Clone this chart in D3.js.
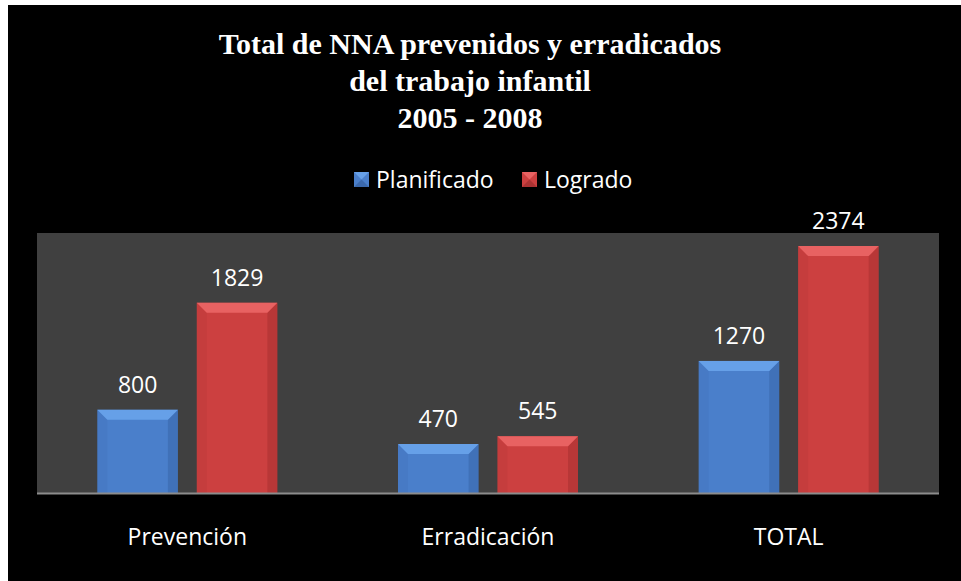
<!DOCTYPE html>
<html>
<head>
<meta charset="utf-8">
<script src="https://cdn.jsdelivr.net/npm/d3@7"></script>
<style>
  body { margin: 0; background: #fff; }
  svg { display: block; }
</style>
</head>
<body>
<svg id="chart" width="961" height="581"></svg>
<script>
var categories = ["Prevención", "Erradicación", "TOTAL"];
var seriesNames = ["Planificado", "Logrado"];
var planificado = [800, 470, 1270];
var logrado = [1829, 545, 2374];
var titleLines = ["Total de NNA prevenidos y erradicados", "del trabajo infantil", "2005 - 2008"];

var colors = {
    Planificado: { main: "#4a7fcb", top: "#66a0e8", side: "#3a69ad", dark: "#2c548f" },
    Logrado: { main: "#cc4040", top: "#e86262", side: "#aa3333", dark: "#8a2626" }
};

var svg = d3.select("#chart");
var textFont = "'Open Sans', sans-serif";
var textSize = 23;

// frame
svg.append("rect").attr("x", 8).attr("y", 5).attr("width", 953).attr("height", 576).attr("fill", "#000");

// title
svg.append("text")
    .attr("x", 470)
    .attr("text-anchor", "middle")
    .attr("font-family", "'Liberation Serif', 'Times New Roman', serif")
    .attr("font-weight", "bold")
    .attr("font-size", 30)
    .attr("fill", "#fff")
    .selectAll("tspan")
    .data(titleLines)
    .enter()
    .append("tspan")
    .attr("x", 470)
    .attr("y", function (d, i) { return 54 + i * 37; })
    .text(function (d) { return d; });

var plot = { left: 37, right: 939, top: 233, bottom: 493 };

var x0 = d3.scaleBand().domain(categories).range([plot.left, plot.right]).paddingInner(0);
var x1 = d3.scaleBand().domain(seriesNames).range([-90, 90]).paddingInner(0.19);
var y = d3.scaleLinear().domain([0, 2500]).range([plot.bottom, plot.top]);

svg.append("rect")
    .attr("x", plot.left).attr("y", plot.top)
    .attr("width", plot.right - plot.left).attr("height", plot.bottom - plot.top)
    .attr("fill", "#404040");

var rows = categories.map(function (c, i) {
    return { cat: c, values: [
        { key: "Planificado", value: planificado[i] },
        { key: "Logrado", value: logrado[i] }
    ] };
});

var groups = svg.selectAll("g.cat")
    .data(rows)
    .enter()
    .append("g")
    .attr("class", "cat")
    .attr("transform", function (d) { return "translate(" + (x0(d.cat) + x0.bandwidth() / 2) + ",0)"; });

var bars = groups.selectAll("g.bar")
    .data(function (d) { return d.values; })
    .enter()
    .append("g")
    .attr("class", "bar");

var bev = 10;

// body
bars.append("rect")
    .attr("x", function (d) { return x1(d.key); })
    .attr("y", function (d) { return y(d.value); })
    .attr("width", x1.bandwidth())
    .attr("height", function (d) { return plot.bottom - y(d.value); })
    .attr("fill", function (d) { return colors[d.key].main; });

// left bevel
bars.append("path")
    .attr("d", function (d) {
        var l = x1(d.key), t = y(d.value), b = plot.bottom;
        return "M" + l + "," + t + "L" + (l + bev) + "," + (t + bev) + "L" + (l + bev) + "," + b + "L" + l + "," + b + "Z";
    })
    .attr("fill", function (d) { return colors[d.key].side; })
    .attr("opacity", 0.2);

// right bevel
bars.append("path")
    .attr("d", function (d) {
        var r = x1(d.key) + x1.bandwidth(), t = y(d.value), b = plot.bottom;
        return "M" + r + "," + t + "L" + (r - bev) + "," + (t + bev) + "L" + (r - bev) + "," + b + "L" + r + "," + b + "Z";
    })
    .attr("fill", function (d) { return colors[d.key].dark; })
    .attr("opacity", 0.3);

// top bevel
bars.append("path")
    .attr("d", function (d) {
        var l = x1(d.key), r = l + x1.bandwidth(), t = y(d.value);
        return "M" + l + "," + t + "L" + r + "," + t + "L" + (r - bev) + "," + (t + bev) + "L" + (l + bev) + "," + (t + bev) + "Z";
    })
    .attr("fill", function (d) { return colors[d.key].top; });

// labels
bars.append("text")
    .attr("x", function (d) { return x1(d.key) + x1.bandwidth() / 2; })
    .attr("y", function (d) { return y(d.value) - 17; })
    .attr("text-anchor", "middle")
    .attr("font-family", textFont)
    .attr("font-size", textSize)
    .attr("fill", "#fff")
    .text(function (d) { return d.value; });

// baseline
svg.append("line")
    .attr("x1", plot.left).attr("x2", plot.right)
    .attr("y1", plot.bottom + 0.5).attr("y2", plot.bottom + 0.5)
    .attr("stroke", "#8c8c8c").attr("stroke-width", 2);

// category axis
var xAxis = d3.axisBottom(x0).tickSize(0).tickPadding(0);
var ax = svg.append("g").attr("transform", "translate(0," + plot.bottom + ")").call(xAxis);
ax.select(".domain").remove();
ax.selectAll("text")
    .attr("dy", 0)
    .attr("y", 52)
    .attr("font-family", textFont)
    .attr("font-size", textSize)
    .attr("fill", "#fff");

// legend
var legend = svg.append("g");
var lx = [354, 522];
seriesNames.forEach(function (s, i) {
    var g = legend.append("g").attr("transform", "translate(" + lx[i] + ",172)");
    g.append("rect").attr("width", 15).attr("height", 15).attr("fill", colors[s].main);
    g.append("path").attr("d", "M0,0L15,0L7.5,7.5Z").attr("fill", colors[s].top);
    g.append("path").attr("d", "M0,15L15,15L7.5,7.5Z").attr("fill", colors[s].dark).attr("opacity", 0.5);
    g.append("text")
        .attr("x", 22).attr("y", 16)
        .attr("font-family", textFont)
        .attr("font-size", textSize)
        .attr("fill", "#fff")
        .text(s);
});
</script>
</body>
</html>
